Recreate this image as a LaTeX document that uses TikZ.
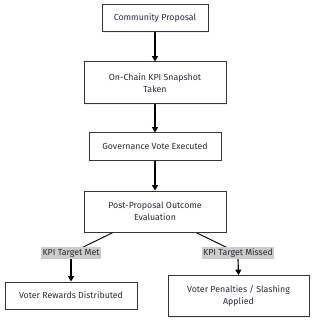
\documentclass[tikz,border=0pt]{standalone}
\usepackage{fontspec}
\setmainfont{Fira Sans}
\usetikzlibrary{arrows.meta,shadows}
\pgfdeclarelayer{background}
\pgfsetlayers{background,main}
\definecolor{boxline}{HTML}{333344}
\definecolor{txt}{HTML}{2A2A38}
\definecolor{lblbg}{HTML}{CCCCCC}
\tikzset{
  box/.style={draw=boxline, line width=0.75pt, fill=white, align=center, text=txt,
    font=\fontsize{6.6}{9}\selectfont, inner sep=0pt,
    drop shadow={opacity=0.12, shadow xshift=0.9pt, shadow yshift=-0.9pt}},
  lbl/.style={fill=lblbg, text=txt, font=\fontsize{6.6}{8}\selectfont, inner xsep=1pt, inner ysep=1.2pt},
  flow/.style={draw=black, line width=0.85pt},
  arr/.style={flow, -{Triangle[length=4pt,width=4.5pt]}}
}
\begin{document}
\begin{tikzpicture}[x=0.75pt,y=-0.75pt]
\useasboundingbox (0,0) rectangle (314,320);
\node[box, minimum width=106*0.75pt, minimum height=27*0.75pt] (b1) at (155,18.5) {Community Proposal};
\node[box, minimum width=142*0.75pt, minimum height=42*0.75pt] (b2) at (155,83) {On-Chain KPI Snapshot\\Taken};
\node[box, minimum width=132*0.75pt, minimum height=27*0.75pt] (b3) at (155,146.5) {Governance Vote Executed};
\node[box, minimum width=142*0.75pt, minimum height=41*0.75pt] (b4) at (155,211.5) {Post-Proposal Outcome\\Evaluation};
\node[box, minimum width=132*0.75pt, minimum height=27*0.75pt] (b5) at (71,295.5) {Voter Rewards Distributed};
\node[box, minimum width=141*0.75pt, minimum height=41*0.75pt] (b6) at (238.5,296) {Voter Penalties / Slashing\\Applied};
\node[lbl] (lm) at (71,253) {KPI Target Met};
\node[lbl] (lr) at (238,253) {KPI Target Missed};
\coordinate (s1) at (114,232);
\coordinate (s2) at (195,232);
\coordinate (m1) at (71,253);
\coordinate (m2) at (238,253);
\begin{pgfonlayer}{background}
\draw[arr] (b1) -- (b2);
\draw[arr] (b2) -- (b3);
\draw[arr] (b3) -- (b4);
\draw[flow, line width=0.7pt] (s1) -- (m1);
\draw[flow, line width=0.7pt] (s2) -- (m2);
\end{pgfonlayer}
\draw[arr] (lm.south) -- (b5.north);
\draw[arr] (lr.south) -- (b6.north);
\end{tikzpicture}
\end{document}
